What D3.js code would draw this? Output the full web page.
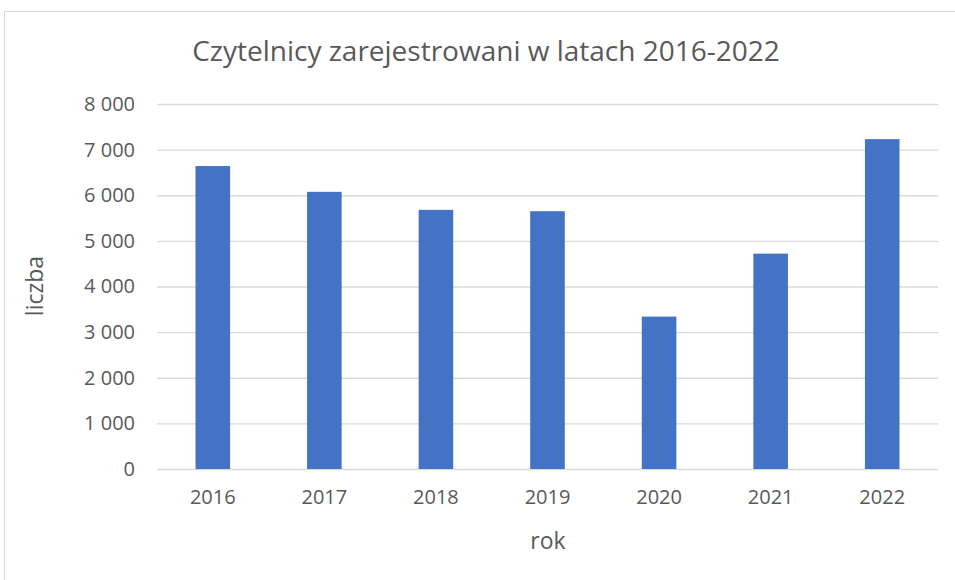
<!DOCTYPE html>
<html>
<head>
<meta charset="utf-8">
<script src="https://cdn.jsdelivr.net/npm/d3@7"></script>
<style>
    body { margin: 0; background: #fff; }
    text { font-family: "Open Sans", "Noto Sans", sans-serif; fill: #595959; }
</style>
</head>
<body>
<svg id="chart"></svg>
<script>
// data
const years = ['2016', '2017', '2018', '2019', '2020', '2021', '2022'];
const readers = [6640, 6075, 5680, 5650, 3340, 4720, 7230];
const yTicks = [0, 1000, 2000, 3000, 4000, 5000, 6000, 7000, 8000];

const config = {
    width: 955,
    height: 580,
    margin: {top: 104, right: 17, bottom: 111, left: 157}
};

const svg = d3.select('#chart')
    .attr('width', config.width)
    .attr('height', config.height);

// chart frame (only top and left edges visible in the window)
svg.append('rect')
    .attr('x', 4.5)
    .attr('y', 11.5)
    .attr('width', 960)
    .attr('height', 600)
    .attr('fill', 'none')
    .attr('stroke', '#d9d9d9')
    .attr('stroke-width', 1);

const innerW = config.width - config.margin.left - config.margin.right;
const innerH = config.height - config.margin.top - config.margin.bottom;

const chart = svg.append('g')
    .attr('transform', `translate(${config.margin.left},${config.margin.top})`);

const xScale = d3.scaleBand()
    .domain(years)
    .range([0, innerW])
    .paddingInner(0.69)
    .paddingOuter(0.345);

const yScale = d3.scaleLinear()
    .domain([0, 8000])
    .range([innerH, 0]);

const fmt = d => d3.format(',')(d).replace(/,/g, '\u00a0');

// gridlines + y labels
const yAxis = d3.axisLeft(yScale)
    .tickValues(yTicks)
    .tickSize(-innerW)
    .tickPadding(22)
    .tickFormat(fmt);

chart.append('g')
    .attr('class', 'y-axis')
    .call(yAxis)
    .call(g => g.select('.domain').remove())
    .call(g => g.selectAll('.tick line').attr('stroke', '#d9d9d9').attr('stroke-width', 1.3))
    .call(g => g.selectAll('.tick text').attr('font-size', 20).style('fill', '#595959'));

// bars
chart.selectAll('.bar')
    .data(years)
    .join('rect')
    .attr('class', 'bar')
    .attr('x', d => xScale(d))
    .attr('y', (d, i) => yScale(readers[i]))
    .attr('width', xScale.bandwidth())
    .attr('height', (d, i) => innerH - yScale(readers[i]))
    .attr('fill', '#4472c4');

// x labels
const xAxis = d3.axisBottom(xScale)
    .tickSize(0)
    .tickPadding(21);

chart.append('g')
    .attr('class', 'x-axis')
    .attr('transform', `translate(0,${innerH})`)
    .call(xAxis)
    .call(g => g.select('.domain').remove())
    .call(g => g.selectAll('.tick text').attr('font-size', 20).style('fill', '#595959'));

// title
svg.append('text')
    .attr('x', 486)
    .attr('y', 61)
    .attr('text-anchor', 'middle')
    .attr('font-size', 28)
    .text('Czytelnicy zarejestrowani w latach 2016-2022');

// axis titles
svg.append('text')
    .attr('x', 548)
    .attr('y', 549)
    .attr('text-anchor', 'middle')
    .attr('font-size', 23)
    .text('rok');

svg.append('text')
    .attr('transform', 'translate(43,286) rotate(-90)')
    .attr('text-anchor', 'middle')
    .attr('font-size', 23)
    .text('liczba');
</script>
</body>
</html>
